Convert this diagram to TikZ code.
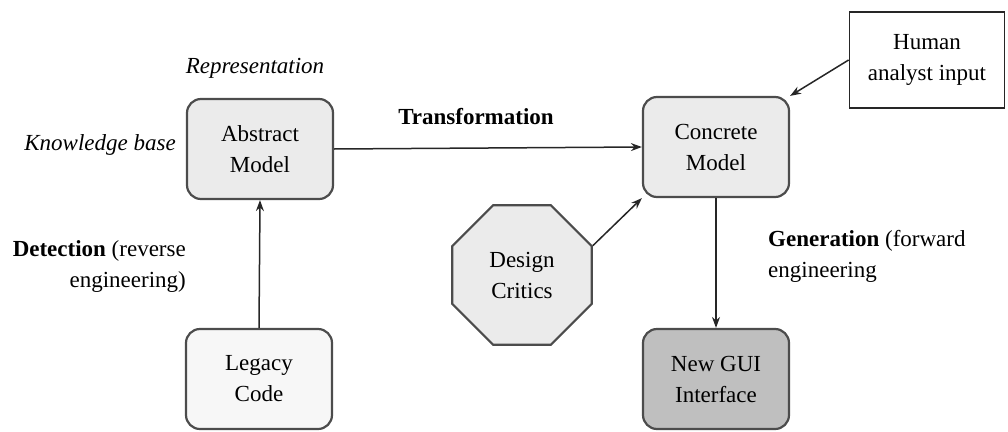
\documentclass[tikz,border=0pt]{standalone}
\usepackage{fontspec}
\setmainfont{Liberation Serif}
\usetikzlibrary{arrows.meta,shapes.geometric}
\begin{document}
\begin{tikzpicture}[x=1pt,y=-1pt,
  font=\fontsize{23}{31}\selectfont,
  model/.style={draw=black!70, line width=2.2pt, rounded corners=14pt,
    minimum width=146pt, minimum height=100pt, align=center, inner sep=2pt},
  plainbox/.style={draw=black!85, line width=1.8pt, align=center,
    minimum width=155pt, minimum height=96pt},
  critic/.style={draw=black!70, line width=2.2pt, regular polygon, regular polygon sides=8,
    minimum size=151pt, inner sep=0pt, align=center, fill=black!8},
  link/.style={draw=black!85, line width=1.5pt, -{Stealth[length=11pt,width=8pt]}},
  note/.style={inner sep=0pt}
]
\useasboundingbox (0,0) rectangle (1008,431);

% boxes
\node[model, fill=black!8] (abs) at (260,149) {Abstract\\Model};
\node[model, fill=black!8] (con) at (716,147) {Concrete\\Model};
\node[model, fill=black!3] (leg) at (259,379) {Legacy\\Code};
\node[model, fill=black!25] (gui) at (716,379) {New GUI\\Interface};
\node[plainbox, fill=white] (hum) at (927,60) {Human\\analyst input};
\node[critic] (dc) at (522,275) {Design\\Critics};

% connectors
\draw[link] (abs.east) -- (con.west);
\draw[link] (leg.north) -- (abs.south);
\draw[link] (con.south) -- (gui.north);
\draw[link] (hum.west) -- (con.north east);
\draw[link] (dc.corner 8) -- (con.south west);

% labels
\node[note, font=\fontsize{23}{31}\selectfont\itshape] (rep) at (255,68) {Representation};
\node[note, font=\fontsize{23}{31}\selectfont\itshape, anchor=east] (kb) at (176,145) {Knowledge base};
\node[note, font=\fontsize{23}{31}\selectfont\bfseries] (tr) at (476,117) {Transformation};
\node[note, align=right, anchor=north east] (det) at (186,240) {\textbf{Detection} (reverse\\engineering)};
\node[note, align=left, anchor=north west] (gen) at (768,230) {\textbf{Generation} (forward\\engineering};
\end{tikzpicture}
\end{document}
